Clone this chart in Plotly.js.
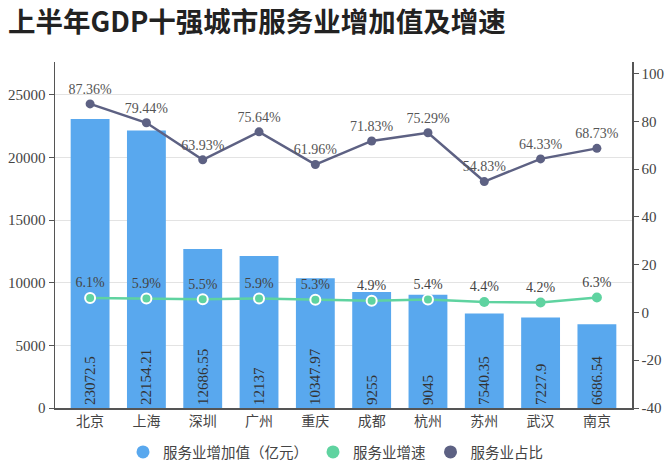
<!DOCTYPE html>
<html>
<head>
<meta charset="utf-8">
<script src="https://cdn.plot.ly/plotly-3.0.1.min.js"></script>
<style>
  html, body { margin: 0; padding: 0; background: #fff; }
  #chart { width: 671px; height: 465px; }
</style>
</head>
<body>
<div id="chart"></div>
<script>
// city names
var cities = ['北京', '上海', '深圳', '广州', '重庆', '成都', '杭州', '苏州', '武汉', '南京'];
// service industry added value (100 million yuan)
var addedValue = [23072.5, 22154.21, 12686.55, 12137, 10347.97, 9255, 9045, 7540.35, 7227.9, 6686.54];
// growth rate (%)
var growth = [6.1, 5.9, 5.5, 5.9, 5.3, 4.9, 5.4, 4.4, 4.2, 6.3];
// share of service industry (%)
var share = [87.36, 79.44, 63.93, 75.64, 61.96, 71.83, 75.29, 54.83, 64.33, 68.73];
// axis ticks
var leftTicks = [0, 5000, 10000, 15000, 20000, 25000];
var rightTicks = [-40, -20, 0, 20, 40, 60, 80, 100];

var FONT = 'Liberation Serif, Noto Sans CJK SC, serif';
var BAR_COLOR = '#59a8ee';
var GREEN = '#5fd3a0';
var NAVY = '#5d6183';

var bars = {
    x: cities,
    y: addedValue,
    type: 'bar',
    name: '服务业增加值（亿元）',
    marker: { color: BAR_COLOR },
    text: addedValue.map(String),
    textposition: 'inside',
    insidetextanchor: 'start',
    textangle: -90,
    textfont: { family: FONT, size: 15, color: '#333' },
    showlegend: false,
    hoverinfo: 'none'
};

var growthLine = {
    x: cities,
    y: growth,
    yaxis: 'y2',
    type: 'scatter',
    mode: 'lines+markers+text',
    name: '服务业增速',
    line: { color: GREEN, width: 2.5 },
    marker: {
        color: GREEN, size: 10,
        line: { color: '#fff', width: [2, 2, 2, 2, 2, 2, 2, 0, 0, 0] }
    },
    text: growth.map(function (v) { return v.toFixed(1) + '%'; }),
    textposition: 'top center',
    textfont: { family: FONT, size: 14, color: '#444' },
    showlegend: false,
    hoverinfo: 'none'
};

var shareLine = {
    x: cities,
    y: share,
    yaxis: 'y2',
    type: 'scatter',
    mode: 'lines+markers+text',
    name: '服务业占比',
    line: { color: NAVY, width: 2.5 },
    marker: { color: NAVY, size: 9 },
    text: share.map(function (v) { return v.toFixed(2) + '%'; }),
    textposition: 'top center',
    textfont: { family: FONT, size: 14, color: '#555' },
    showlegend: false,
    hoverinfo: 'none'
};

// legend-only entries so every legend symbol is a circle
function legendDot(name, color) {
    return {
        x: [null], y: [null], type: 'scatter', mode: 'markers',
        name: name, marker: { color: color, size: 13, symbol: 'circle' },
        hoverinfo: 'none'
    };
}

var data = [bars, growthLine, shareLine,
    legendDot('服务业增加值（亿元）', BAR_COLOR),
    legendDot('服务业增速', GREEN),
    legendDot('服务业占比', NAVY)];

var layout = {
    width: 671,
    height: 465,
    paper_bgcolor: '#fff',
    plot_bgcolor: '#fff',
    font: { family: FONT, size: 14, color: '#444' },
    margin: { l: 55, r: 39, t: 62, b: 57, autoexpand: false },
    title: {
        text: '<b>上半年GDP十强城市服务业增加值及增速</b>',
        font: { family: 'Noto Sans CJK SC', size: 27.5, color: '#222' },
        x: 0.012, xanchor: 'left',
        y: 0.952, yanchor: 'middle'
    },
    bargap: 0.31,
    xaxis: {
        showline: true, linecolor: '#555', linewidth: 1.5,
        ticks: '', showgrid: false,
        tickfont: { family: 'Noto Sans CJK SC', size: 14, color: '#444' }
    },
    yaxis: {
        range: [0, 27620],
        tickvals: leftTicks,
        ticktext: leftTicks.map(String),
        showline: true, linecolor: '#555', linewidth: 1.5,
        ticks: 'outside', ticklen: 5, tickcolor: '#555',
        gridcolor: '#e3e3e3', zeroline: false,
        tickfont: { family: FONT, size: 15, color: '#444' }
    },
    yaxis2: {
        overlaying: 'y', side: 'right',
        range: [-40, 104.9],
        tickvals: rightTicks,
        ticktext: rightTicks.map(String),
        showline: true, linecolor: '#555', linewidth: 1.5,
        ticks: 'outside', ticklen: 5, tickcolor: '#555',
        showgrid: false, zeroline: false,
        tickfont: { family: FONT, size: 15, color: '#444' }
    },
    legend: {
        orientation: 'h',
        x: 0.5, xanchor: 'center', xref: 'container',
        y: 0.028, yanchor: 'middle', yref: 'container',
        font: { family: 'Noto Sans CJK SC', size: 14.5, color: '#444' },
        itemclick: false
    },
    hovermode: false
};

var additional_param = {
    staticPlot: true,
    displaylogo: false
};

Plotly.newPlot('chart', data, layout, additional_param);
</script>
</body>
</html>
